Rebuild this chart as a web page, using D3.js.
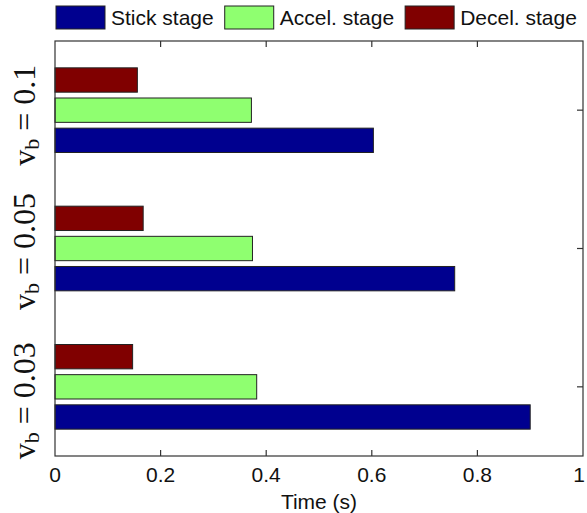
<!DOCTYPE html>
<html>
<head>
<meta charset="utf-8">
<script src="https://cdn.jsdelivr.net/npm/d3@7"></script>
<style>
  body { margin: 0; background: #fff; }
  text { font-family: Arial, "Liberation Sans", sans-serif; }
</style>
</head>
<body>
<div class="svg-chart"></div>
<script>
// chart data
const groups = ['0.03', '0.05', '0.1'];          // v_b, bottom to top
const seriesNames = ['Stick stage', 'Accel. stage', 'Decel. stage'];
const stickTimes = [0.900, 0.757, 0.603];
const accelTimes = [0.382, 0.374, 0.372];
const decelTimes = [0.147, 0.167, 0.156];
const xTicks = [0, 0.2, 0.4, 0.6, 0.8, 1];
const colors = ['#00008f', '#8fff70', '#800000'];

const width = 587, height = 513;
const margin = { top: 41, right: 4, bottom: 57, left: 55 };

const svg = d3.select('.svg-chart').append('svg')
    .attr('width', width)
    .attr('height', height);

let x = d3.scaleLinear()
    .domain([0, 1])
    .range([margin.left, width - margin.right]);

let y = d3.scaleLinear()
    .domain([0.5, groups.length + 0.5])
    .range([height - margin.bottom, margin.top]);

const series = [stickTimes, accelTimes, decelTimes];
const pitch = 0.218, barH = 0.176;

series.forEach((vals, si) => {
    const off = (si - 1) * pitch;
    svg.append('g')
        .selectAll('rect')
        .data(vals)
        .enter()
        .append('rect')
        .attr('x', x(0))
        .attr('y', (d, i) => y(i + 1 + off + barH / 2))
        .attr('width', d => x(d) - x(0))
        .attr('height', y(0) - y(barH))
        .attr('fill', colors[si])
        .attr('stroke', '#222')
        .attr('stroke-width', 1);
});

// frame
const x0 = x(0), x1 = x(1), yT = y(groups.length + 0.5), yB = y(0.5);
svg.append('rect')
    .attr('x', x0).attr('y', yT)
    .attr('width', x1 - x0).attr('height', yB - yT)
    .attr('fill', 'none')
    .attr('stroke', '#333')
    .attr('stroke-width', 1.2);

// inward ticks
const tk = 6;
const tickG = svg.append('g').attr('stroke', '#333').attr('stroke-width', 1.2);
xTicks.slice(1, -1).forEach(t => {
    tickG.append('line').attr('x1', x(t)).attr('x2', x(t)).attr('y1', yB).attr('y2', yB - tk);
    tickG.append('line').attr('x1', x(t)).attr('x2', x(t)).attr('y1', yT).attr('y2', yT + tk);
});
groups.forEach((g, i) => {
    tickG.append('line').attr('x1', x1).attr('x2', x1 - tk).attr('y1', y(i + 1)).attr('y2', y(i + 1));
});

// x tick labels
svg.append('g')
    .selectAll('text')
    .data(xTicks)
    .enter()
    .append('text')
    .attr('x', d => Math.min(x(d), width - 8))
    .attr('y', 482)
    .attr('text-anchor', 'middle')
    .attr('font-size', 21)
    .attr('fill', '#111')
    .text(d => d3.format('~g')(d));

svg.append('text')
    .attr('x', (x0 + x1) / 2)
    .attr('y', 509)
    .attr('text-anchor', 'middle')
    .attr('font-size', 21)
    .attr('fill', '#111')
    .text('Time (s)');

// y category labels, rotated, serif (placed a bit off the ticks, as in the figure)
const labelShift = [14, 3, 5];
groups.forEach((g, i) => {
    const t = svg.append('text')
        .attr('transform', `translate(35,${y(i + 1) + labelShift[i]}) rotate(-90)`)
        .attr('text-anchor', 'middle')
        .style('font-family', '"Liberation Serif", "Times New Roman", serif')
        .attr('font-size', 32)
        .attr('fill', '#111');
    t.append('tspan').text('v');
    t.append('tspan').attr('font-size', 22).attr('dy', 4).text('b');
    t.append('tspan').attr('dy', -4).text(' = ' + g);
});

// legend
let lx = 56;
seriesNames.forEach((name, si) => {
    svg.append('rect')
        .attr('x', lx).attr('y', 6)
        .attr('width', 49).attr('height', 23)
        .attr('fill', colors[si])
        .attr('stroke', '#222')
        .attr('stroke-width', 1);
    const t = svg.append('text')
        .attr('x', lx + 55)
        .attr('y', 25)
        .attr('font-size', 21)
        .attr('fill', '#111')
        .text(name);
    lx = lx + 55 + t.node().getComputedTextLength() + 11;
});
</script>
</body>
</html>
